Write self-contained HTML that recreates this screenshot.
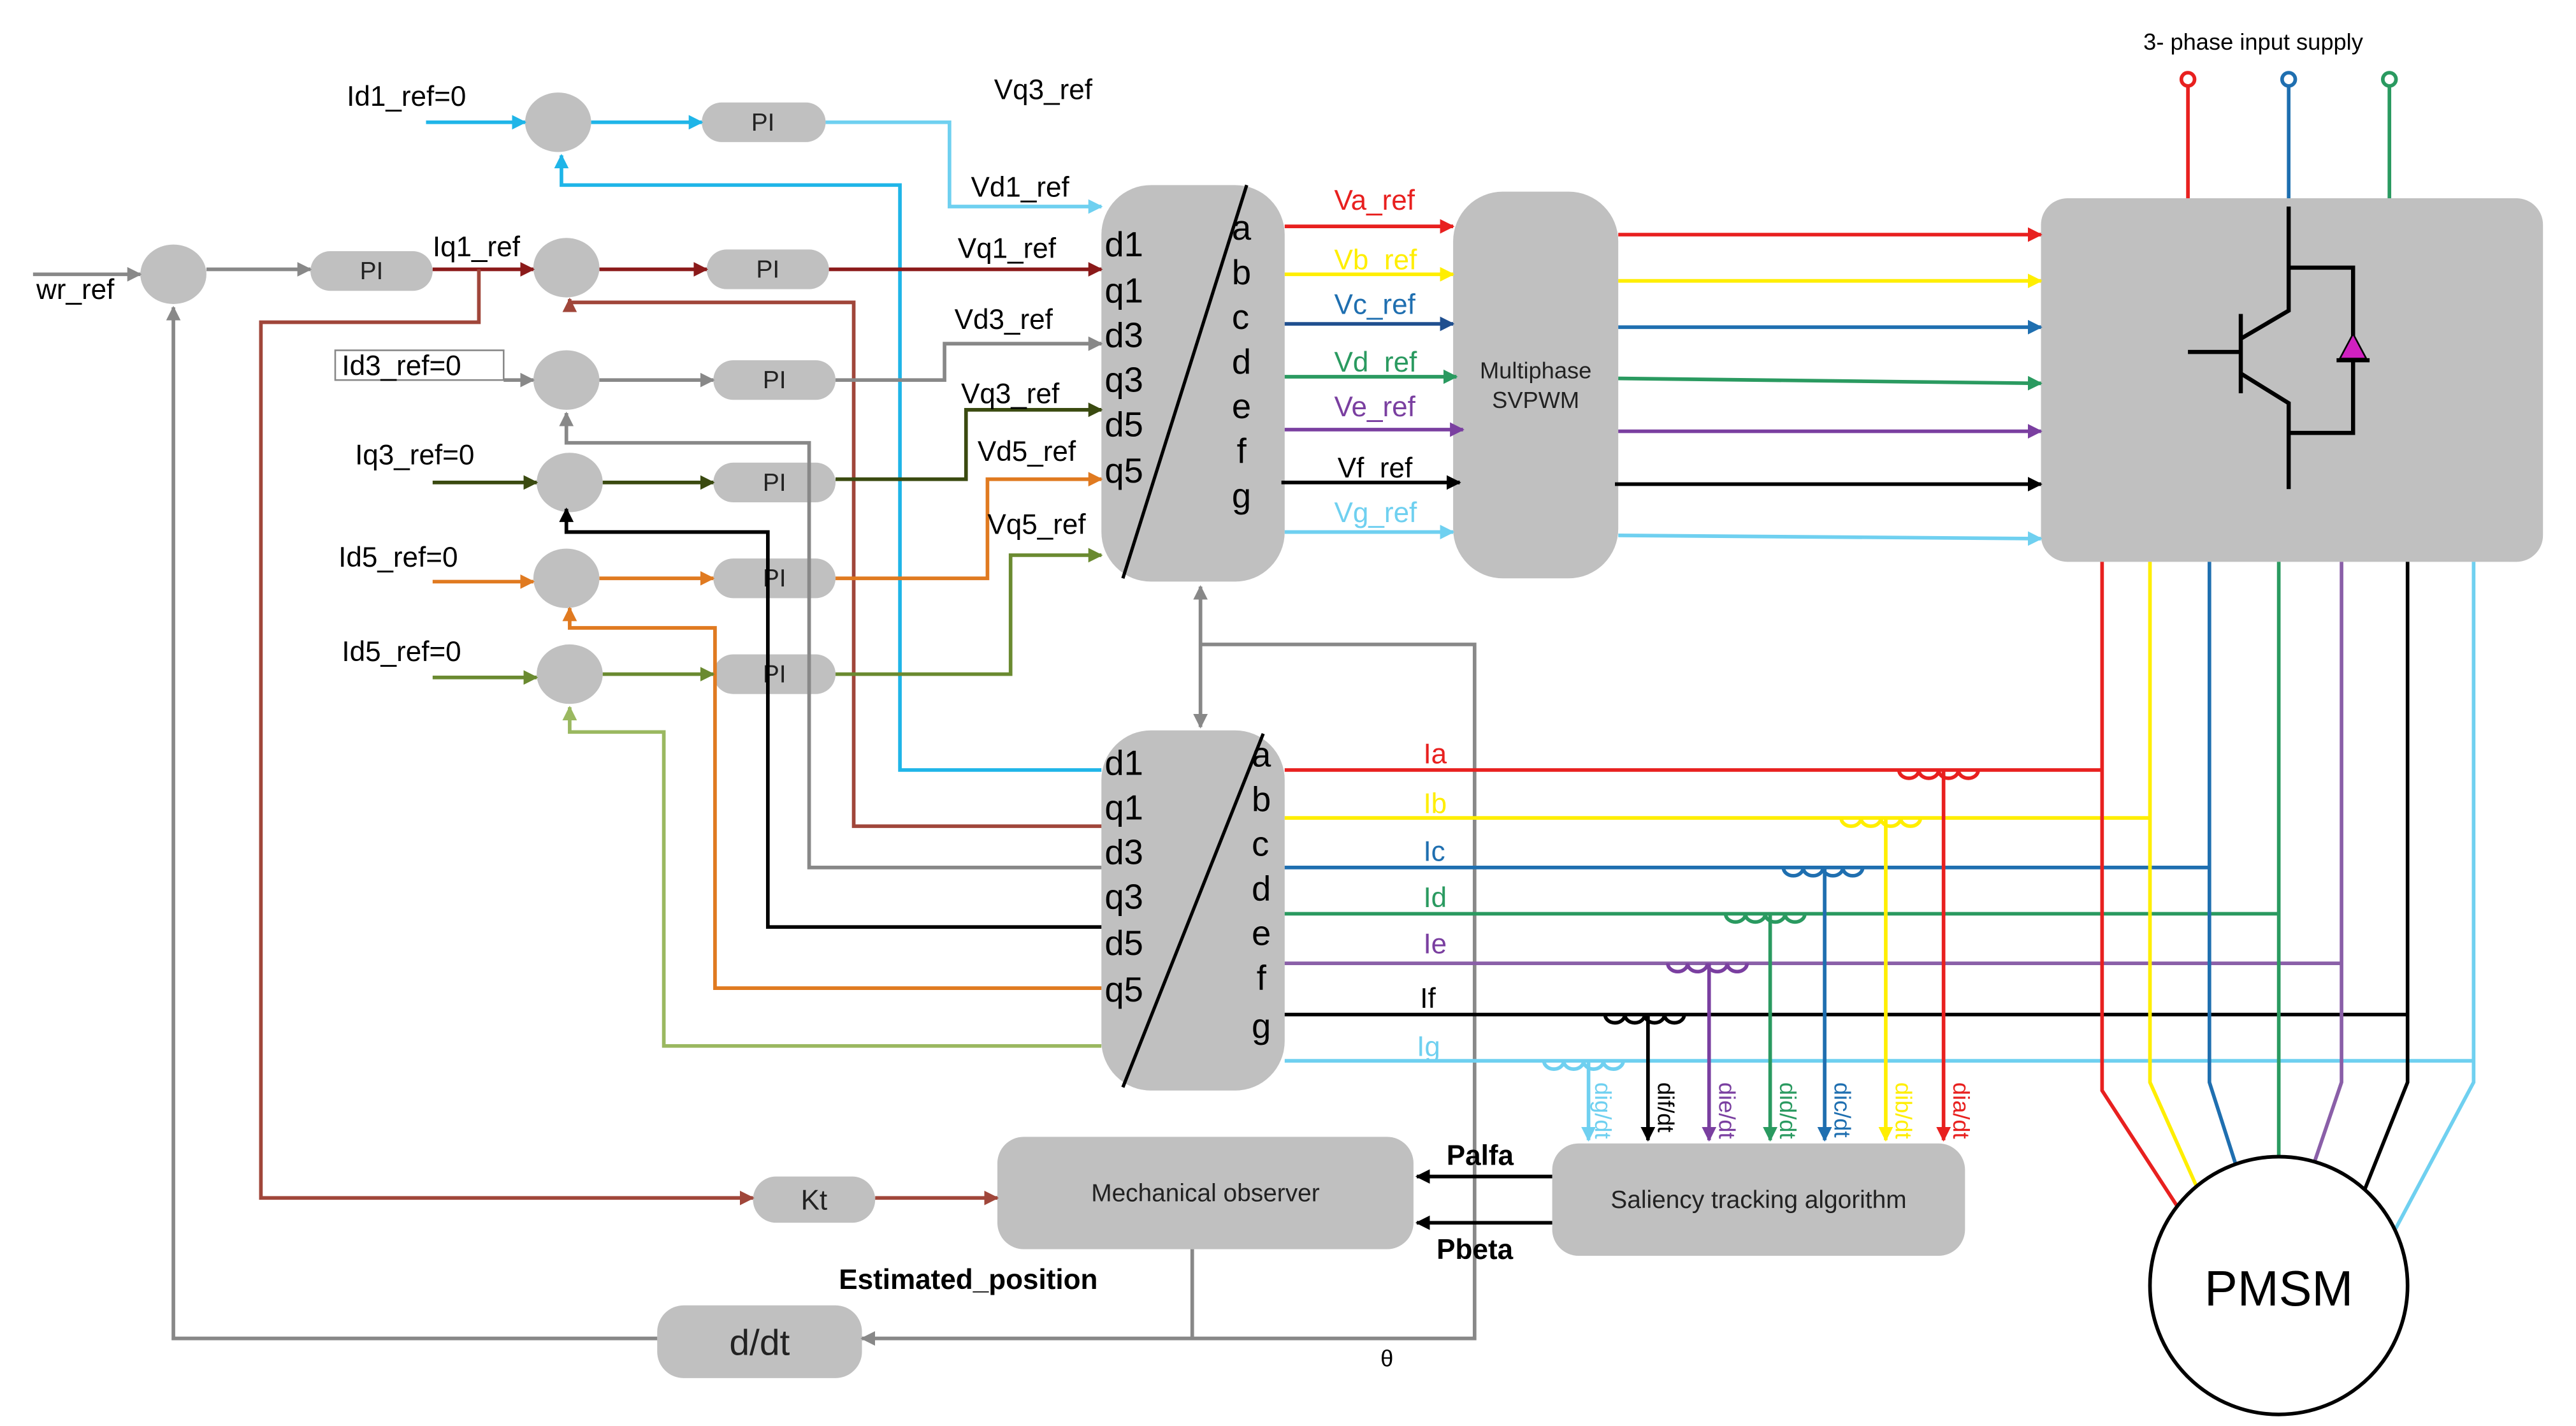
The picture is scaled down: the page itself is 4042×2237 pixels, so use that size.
<!DOCTYPE html>
<html><head><meta charset="utf-8"><style>html,body{margin:0;padding:0;background:#fff}svg{display:block}</style></head>
<body>
<svg width="4042" height="2237" viewBox="0 0 1560 863" preserveAspectRatio="none" xmlns="http://www.w3.org/2000/svg" font-family="Liberation Sans, sans-serif">
<defs>
<marker id="ar" viewBox="0 0 10 10" refX="9" refY="5" markerWidth="4" markerHeight="4" orient="auto-start-reverse" markerUnits="strokeWidth"><path d="M0,0L10,5L0,10z" fill="context-stroke"/></marker>
</defs>
<rect width="1560" height="863" fill="#fff"/>
<g fill="#c0c0c0">
<ellipse cx="105" cy="166" rx="20" ry="18"/>
<ellipse cx="338" cy="74" rx="20" ry="18"/>
<ellipse cx="343" cy="162" rx="20" ry="18"/>
<ellipse cx="343" cy="230" rx="20" ry="18"/>
<ellipse cx="345" cy="292" rx="20" ry="18"/>
<ellipse cx="343" cy="350" rx="20" ry="18"/>
<ellipse cx="345" cy="408" rx="20" ry="18"/>
<rect x="425" y="62" width="75" height="24" rx="12"/>
<rect x="188" y="152" width="74" height="24" rx="12"/>
<rect x="428" y="151" width="74" height="24" rx="12"/>
<rect x="432" y="218" width="74" height="24" rx="12"/>
<rect x="432" y="280" width="74" height="24" rx="12"/>
<rect x="432" y="338" width="74" height="24" rx="12"/>
<rect x="432" y="396" width="74" height="24" rx="12"/>
<rect x="667" y="112" width="111" height="240" rx="30"/>
<rect x="667" y="442" width="111" height="218" rx="30"/>
<rect x="880" y="116" width="100" height="234" rx="30"/>
<rect x="1236" y="120" width="304" height="220" rx="16"/>
<rect x="604" y="688" width="252" height="68" rx="16"/>
<rect x="940" y="692" width="250" height="68" rx="16"/>
<rect x="456" y="712" width="74" height="28" rx="14"/>
<rect x="398" y="790" width="124" height="44" rx="16"/>
</g>
<g font-size="15" text-anchor="middle" fill="#222">
<text x="462" y="79">PI</text><text x="225" y="169">PI</text><text x="465" y="168">PI</text>
<text x="469" y="235">PI</text><text x="469" y="297">PI</text><text x="469" y="355">PI</text><text x="469" y="413">PI</text>
<text x="493" y="732" font-size="17">Kt</text>
<text x="460" y="820" font-size="22">d/dt</text>
<text x="730" y="727" font-size="15">Mechanical observer</text>
<text x="1065" y="731" font-size="15">Saliency tracking algorithm</text>
<text x="930" y="229" font-size="14">Multiphase</text><text x="930" y="247" font-size="14">SVPWM</text>
</g>
<line x1="755" y1="112" x2="680" y2="350" stroke="#000" stroke-width="2"/>
<line x1="765" y1="444" x2="680" y2="658" stroke="#000" stroke-width="2"/>
<g font-size="21" fill="#000">
<text x="669" y="155">d1</text><text x="669" y="183">q1</text><text x="669" y="210">d3</text><text x="669" y="237">q3</text><text x="669" y="264">d5</text><text x="669" y="292">q5</text>
<text x="746" y="145">a</text><text x="746" y="172">b</text><text x="746" y="199">c</text><text x="746" y="226">d</text><text x="746" y="253">e</text><text x="749" y="280">f</text><text x="746" y="307">g</text>
<text x="669" y="469">d1</text><text x="669" y="496">q1</text><text x="669" y="523">d3</text><text x="669" y="550">q3</text><text x="669" y="578">d5</text><text x="669" y="606">q5</text>
<text x="758" y="464">a</text><text x="758" y="491">b</text><text x="758" y="518">c</text><text x="758" y="545">d</text><text x="758" y="572">e</text><text x="761" y="599">f</text><text x="758" y="628">g</text>
</g>
<g fill="none" stroke-width="2.2">
<!-- speed loop -->
<path d="M20,166H85" stroke="#888" marker-end="url(#ar)"/>
<path d="M125,163H188" stroke="#888" marker-end="url(#ar)"/>
<path d="M262,163H323" stroke="#8b1a1a" marker-end="url(#ar)"/>
<path d="M290,163V195H158V725H456" stroke="#a0463a" marker-end="url(#ar)"/>
<path d="M530,725H604" stroke="#a0463a" marker-end="url(#ar)"/>
<path d="M398,810H105V186" stroke="#888" marker-end="url(#ar)"/>
<!-- row1 -->
<path d="M258,74H318" stroke="#1fb5e8" marker-end="url(#ar)"/>
<path d="M358,74H425" stroke="#1fb5e8" marker-end="url(#ar)"/>
<path d="M500,74H575V125H667" stroke="#6fd0f0" marker-end="url(#ar)"/>
<path d="M667,466H545V112H340V94" stroke="#1fb5e8" marker-end="url(#ar)"/>
<!-- row2 -->
<path d="M363,163H428" stroke="#8b1a1a" marker-end="url(#ar)"/>
<path d="M502,163H667" stroke="#8b1a1a" marker-end="url(#ar)"/>
<path d="M667,500H517V183H345V181" stroke="#a0463a" marker-end="url(#ar)"/>
<!-- row3 -->
<path d="M305,230H323" stroke="#888" marker-end="url(#ar)"/>
<path d="M363,230H432" stroke="#888" marker-end="url(#ar)"/>
<path d="M506,230H572V208H667" stroke="#888" marker-end="url(#ar)"/>
<path d="M667,525H490V268H343V250" stroke="#888" marker-end="url(#ar)"/>
<!-- row4 -->
<path d="M262,292H325" stroke="#3a4a10" marker-end="url(#ar)"/>
<path d="M365,292H432" stroke="#3a4a10" marker-end="url(#ar)"/>
<path d="M506,290H585V248H667" stroke="#3a4a10" marker-end="url(#ar)"/>
<path d="M667,561H465V322H343V308" stroke="#000" marker-end="url(#ar)"/>
<!-- row5 -->
<path d="M262,352H323" stroke="#e07a20" marker-end="url(#ar)"/>
<path d="M363,350H432" stroke="#e07a20" marker-end="url(#ar)"/>
<path d="M506,350H598V290H667" stroke="#e07a20" marker-end="url(#ar)"/>
<path d="M667,598H433V380H345V368" stroke="#e07a20" marker-end="url(#ar)"/>
<!-- row6 -->
<path d="M262,410H325" stroke="#6a8a30" marker-end="url(#ar)"/>
<path d="M365,408H432" stroke="#6a8a30" marker-end="url(#ar)"/>
<path d="M506,408H612V336H667" stroke="#6a8a30" marker-end="url(#ar)"/>
<path d="M667,633H402V443H345V428" stroke="#9ab860" marker-end="url(#ar)"/>
<!-- transform interconnect -->
<path d="M727,355V440" stroke="#888" marker-start="url(#ar)" marker-end="url(#ar)"/>
<path d="M727,390H893V810H522" stroke="#888" marker-end="url(#ar)"/>
<path d="M722,756V810" stroke="#888"/>
<!-- abc to svpwm -->
<path d="M778,137H880" stroke="#e8201f" marker-end="url(#ar)"/>
<path d="M778,166H880" stroke="#ffee00" marker-end="url(#ar)"/>
<path d="M778,196H880" stroke="#1f4f8f" marker-end="url(#ar)"/>
<path d="M778,228H882" stroke="#2a9a60" marker-end="url(#ar)"/>
<path d="M778,260H886" stroke="#7a3fa0" marker-end="url(#ar)"/>
<path d="M776,292H884" stroke="#000" marker-end="url(#ar)"/>
<path d="M778,322H880" stroke="#6fd0f0" marker-end="url(#ar)"/>
<!-- svpwm to inverter -->
<path d="M980,142H1236" stroke="#e8201f" marker-end="url(#ar)"/>
<path d="M980,170H1236" stroke="#ffee00" marker-end="url(#ar)"/>
<path d="M980,198H1236" stroke="#1f6fb0" marker-end="url(#ar)"/>
<path d="M980,229L1236,232" stroke="#2a9a60" marker-end="url(#ar)"/>
<path d="M980,261H1236" stroke="#7a3fa0" marker-end="url(#ar)"/>
<path d="M978,293H1236" stroke="#000" marker-end="url(#ar)"/>
<path d="M980,324L1236,326" stroke="#6fd0f0" marker-end="url(#ar)"/>
<!-- supply -->
<path d="M1325,52V120" stroke="#e8201f"/><path d="M1386,52V120" stroke="#1f6fb0"/><path d="M1447,52V120" stroke="#2a9a60"/>
<!-- observer arrows -->
<path d="M940,712H858" stroke="#000" marker-end="url(#ar)"/>
<path d="M940,740H858" stroke="#000" marker-end="url(#ar)"/>
<!-- currents -->
<path d="M778,466H1273" stroke="#e8201f"/>
<path d="M778,495H1302" stroke="#ffee00"/>
<path d="M778,525H1338" stroke="#1f6fb0"/>
<path d="M778,553H1380" stroke="#2a9a60"/>
<path d="M778,583H1418" stroke="#8a5fa8"/>
<path d="M778,614H1458" stroke="#000"/>
<path d="M778,642H1498" stroke="#6fd0f0"/>
<!-- motor leads -->
<path d="M1273,340V660L1325,740" stroke="#e8201f"/>
<path d="M1302,340V655L1332,722" stroke="#ffee00"/>
<path d="M1338,340V655L1355,708" stroke="#1f6fb0"/>
<path d="M1380,340V700" stroke="#2a9a60"/>
<path d="M1418,340V655L1400,708" stroke="#8a5fa8"/>
<path d="M1458,340V655L1430,725" stroke="#000"/>
<path d="M1498,340V655L1450,745" stroke="#6fd0f0"/>
<!-- sensors -->
<path d="M1150,466a6,5 0 0 0 12,0a6,5 0 0 0 12,0a6,5 0 0 0 12,0a6,5 0 0 0 12,0" stroke="#e8201f"/>
<path d="M1177,466V690" stroke="#e8201f" marker-end="url(#ar)"/>
<path d="M1115,495a6,5 0 0 0 12,0a6,5 0 0 0 12,0a6,5 0 0 0 12,0a6,5 0 0 0 12,0" stroke="#ffee00"/>
<path d="M1142,495V690" stroke="#ffee00" marker-end="url(#ar)"/>
<path d="M1080,525a6,5 0 0 0 12,0a6,5 0 0 0 12,0a6,5 0 0 0 12,0a6,5 0 0 0 12,0" stroke="#1f6fb0"/>
<path d="M1105,525V690" stroke="#1f6fb0" marker-end="url(#ar)"/>
<path d="M1045,553a6,5 0 0 0 12,0a6,5 0 0 0 12,0a6,5 0 0 0 12,0a6,5 0 0 0 12,0" stroke="#2a9a60"/>
<path d="M1072,553V690" stroke="#2a9a60" marker-end="url(#ar)"/>
<path d="M1010,583a6,5 0 0 0 12,0a6,5 0 0 0 12,0a6,5 0 0 0 12,0a6,5 0 0 0 12,0" stroke="#7a3fa0"/>
<path d="M1035,583V690" stroke="#7a3fa0" marker-end="url(#ar)"/>
<path d="M972,614a6,5 0 0 0 12,0a6,5 0 0 0 12,0a6,5 0 0 0 12,0a6,5 0 0 0 12,0" stroke="#000"/>
<path d="M998,614V690" stroke="#000" marker-end="url(#ar)"/>
<path d="M935,642a6,5 0 0 0 12,0a6,5 0 0 0 12,0a6,5 0 0 0 12,0a6,5 0 0 0 12,0" stroke="#6fd0f0"/>
<path d="M962,642V690" stroke="#6fd0f0" marker-end="url(#ar)"/>
<!-- IGBT -->
<g stroke="#000" stroke-width="2.5">
<path d="M1325,213H1357M1357,190V238M1386,125V188L1357,205M1357,226L1386,244V296M1386,162H1425V262H1386M1415,218H1435"/>
</g>
</g>
<path d="M1425,202L1417,217H1433z" fill="#d020c0" stroke="#000" stroke-width="1"/>
<g fill="#fff" stroke-width="2.2">
<circle cx="1325" cy="48" r="4" stroke="#e8201f"/><circle cx="1386" cy="48" r="4" stroke="#1f6fb0"/><circle cx="1447" cy="48" r="4" stroke="#2a9a60"/>
<circle cx="1380" cy="778" r="78" stroke="#000"/>
</g>
<rect x="203" y="212" width="102" height="18" fill="#fff" stroke="#888" stroke-width="1"/>
<g font-size="17" fill="#000">
<text x="210" y="64">Id1_ref=0</text>
<text x="22" y="181">wr_ref</text>
<text x="262" y="155">Iq1_ref</text>
<text x="207" y="227">Id3_ref=0</text>
<text x="215" y="281">Iq3_ref=0</text>
<text x="205" y="343">Id5_ref=0</text>
<text x="207" y="400">Id5_ref=0</text>
<text x="602" y="60">Vq3_ref</text>
<text x="588" y="119">Vd1_ref</text>
<text x="580" y="156">Vq1_ref</text>
<text x="578" y="199">Vd3_ref</text>
<text x="582" y="244">Vq3_ref</text>
<text x="592" y="279">Vd5_ref</text>
<text x="598" y="323">Vq5_ref</text>
<text x="808" y="127" fill="#e8201f">Va_ref</text>
<text x="808" y="163" fill="#ffee00">Vb_ref</text>
<text x="808" y="190" fill="#1f6fb0">Vc_ref</text>
<text x="808" y="225" fill="#2a9a60">Vd_ref</text>
<text x="808" y="252" fill="#7a3fa0">Ve_ref</text>
<text x="810" y="289">Vf_ref</text>
<text x="808" y="316" fill="#6fd0f0">Vg_ref</text>
<text x="862" y="462" fill="#e8201f">Ia</text>
<text x="862" y="492" fill="#ffee00">Ib</text>
<text x="862" y="521" fill="#1f6fb0">Ic</text>
<text x="862" y="549" fill="#2a9a60">Id</text>
<text x="862" y="577" fill="#7a3fa0">Ie</text>
<text x="860" y="610">If</text>
<text x="858" y="639" fill="#6fd0f0">Ig</text>
<text x="876" y="705" font-weight="bold">Palfa</text>
<text x="870" y="762" font-weight="bold">Pbeta</text>
<text x="508" y="780" font-weight="bold">Estimated_position</text>
<text x="836" y="827" font-size="14">θ</text>
<text x="1298" y="30" font-size="14">3- phase input supply</text>
<text x="1380" y="790" font-size="30" text-anchor="middle">PMSM</text>
</g>
<g font-size="14">
<text transform="translate(966,655) rotate(90)" fill="#6fd0f0">dig/dt</text>
<text transform="translate(1004,655) rotate(90)" fill="#000">dif/dt</text>
<text transform="translate(1041,655) rotate(90)" fill="#7a3fa0">die/dt</text>
<text transform="translate(1078,655) rotate(90)" fill="#2a9a60">did/dt</text>
<text transform="translate(1111,655) rotate(90)" fill="#1f6fb0">dic/dt</text>
<text transform="translate(1148,655) rotate(90)" fill="#ffee00">dib/dt</text>
<text transform="translate(1183,655) rotate(90)" fill="#e8201f">dia/dt</text>
</g>
</svg>
</body></html>
